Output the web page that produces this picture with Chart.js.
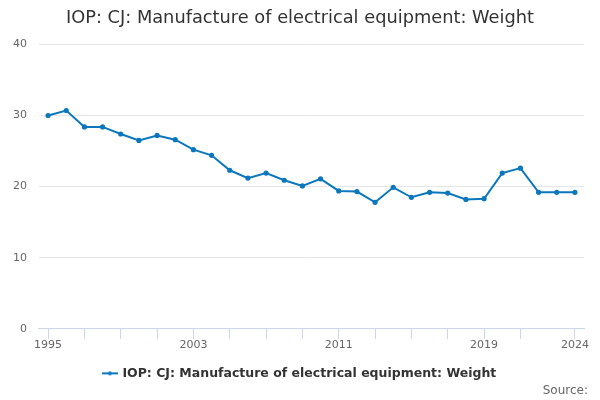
<!DOCTYPE html>
<html>
<head>
<meta charset="utf-8">
<script src="https://cdn.jsdelivr.net/npm/chart.js@4/dist/chart.umd.min.js"></script>
<style>
  html, body { margin: 0; padding: 0; background: #fff; }
  #wrap { width: 600px; height: 400px; }
</style>
</head>
<body>
<div id="wrap"><canvas id="chart"></canvas></div>
<script>
const years = ['1995','1996','1997','1998','1999','2000','2001','2002','2003','2004',
               '2005','2006','2007','2008','2009','2010','2011','2012','2013','2014',
               '2015','2016','2017','2018','2019','2020','2021','2022','2023','2024'];
const weights = [30.0, 30.7, 28.4, 28.4, 27.4, 26.5, 27.2, 26.6, 25.2, 24.4,
                 22.3, 21.2, 21.9, 20.9, 20.1, 21.1, 19.4, 19.3, 17.8, 19.9,
                 18.5, 19.2, 19.1, 18.2, 18.3, 21.9, 22.6, 19.2, 19.2, 19.2];
const shownLabels = ['1995', '2003', '2011', '2019', '2024'];
const yTicks = [0, 10, 20, 30, 40];
const sourceText = 'Source:';

const lineColor = '#0b77bd';
const font = '"DejaVu Sans", sans-serif';

// small legend marker: line with a dot
const marker = document.createElement('canvas');
marker.width = 16; marker.height = 8;
const mctx = marker.getContext('2d');
mctx.strokeStyle = lineColor; mctx.lineWidth = 2;
mctx.beginPath(); mctx.moveTo(0, 4); mctx.lineTo(16, 4); mctx.stroke();
mctx.fillStyle = lineColor;
mctx.beginPath(); mctx.arc(8, 4, 2, 0, Math.PI * 2); mctx.fill();

// title and legend centred on the whole canvas, source nudged right
const centerBlocks = {
    id: 'centerBlocks',
    afterLayout(chart) {
        [chart.titleBlock, chart.legend].forEach(b => {
            if (b) { b.left = 0; b.right = chart.width; b.width = chart.width; }
        });
        chart.boxes.forEach(b => {
            if (b !== chart.titleBlock && b.options && b.options.text === sourceText) {
                b.right = chart.width - 12;
            }
        });
    }
};

const ctx = document.getElementById('chart').getContext('2d');
new Chart(ctx, {
    type: 'line',
    data: {
        labels: years,
        datasets: [{
            label: 'IOP: CJ: Manufacture of electrical equipment: Weight',
            data: weights,
            borderColor: lineColor,
            backgroundColor: lineColor,
            borderWidth: 2,
            pointRadius: 1.6,
            pointHoverRadius: 3,
            tension: 0
        }]
    },
    plugins: [centerBlocks],
    options: {
        responsive: true,
        maintainAspectRatio: false,
        animation: false,
        layout: { padding: { left: 1, right: 16, top: 0, bottom: 2 } },
        plugins: {
            title: {
                display: true,
                text: 'IOP: CJ: Manufacture of electrical equipment: Weight',
                color: '#333333',
                font: { family: font, size: 17.8, weight: 'normal' },
                padding: { top: 8, bottom: 15 }
            },
            subtitle: {
                display: true,
                text: sourceText,
                position: 'bottom',
                align: 'end',
                color: '#666666',
                font: { family: font, size: 12, weight: 'normal' },
                padding: { top: -6, bottom: 0 }
            },
            legend: {
                display: true,
                position: 'bottom',
                labels: {
                    usePointStyle: true,
                    pointStyle: marker,
                    color: '#333333',
                    font: { family: font, size: 12.5, weight: 'bold' },
                    padding: 15
                }
            },
            tooltip: { enabled: false }
        },
        scales: {
            x: {
                offset: true,
                grid: {
                    offset: false,
                    drawOnChartArea: false,
                    drawTicks: true,
                    tickLength: 10,
                    tickColor: c => ((c.index % 2 === 0 && c.index <= 26) || c.index === years.length - 1) ? '#ccd6eb' : 'rgba(0,0,0,0)'
                },
                border: { display: true, color: '#ccd6eb', width: 1 },
                ticks: {
                    autoSkip: false,
                    maxRotation: 0,
                    color: '#666666',
                    font: { family: font, size: 11 },
                    padding: 0,
                    callback: function (v, i) {
                        const lab = years[i];
                        return shownLabels.includes(lab) ? lab : '';
                    }
                }
            },
            y: {
                min: yTicks[0],
                max: yTicks[yTicks.length - 1],
                afterBuildTicks: axis => { axis.ticks = yTicks.map(v => ({ value: v })); },
                grid: { color: '#e6e6e6', drawTicks: false },
                border: { display: false },
                ticks: {
                    color: '#666666',
                    font: { family: font, size: 11 },
                    padding: 12
                }
            }
        }
    }
});
</script>
</body>
</html>
